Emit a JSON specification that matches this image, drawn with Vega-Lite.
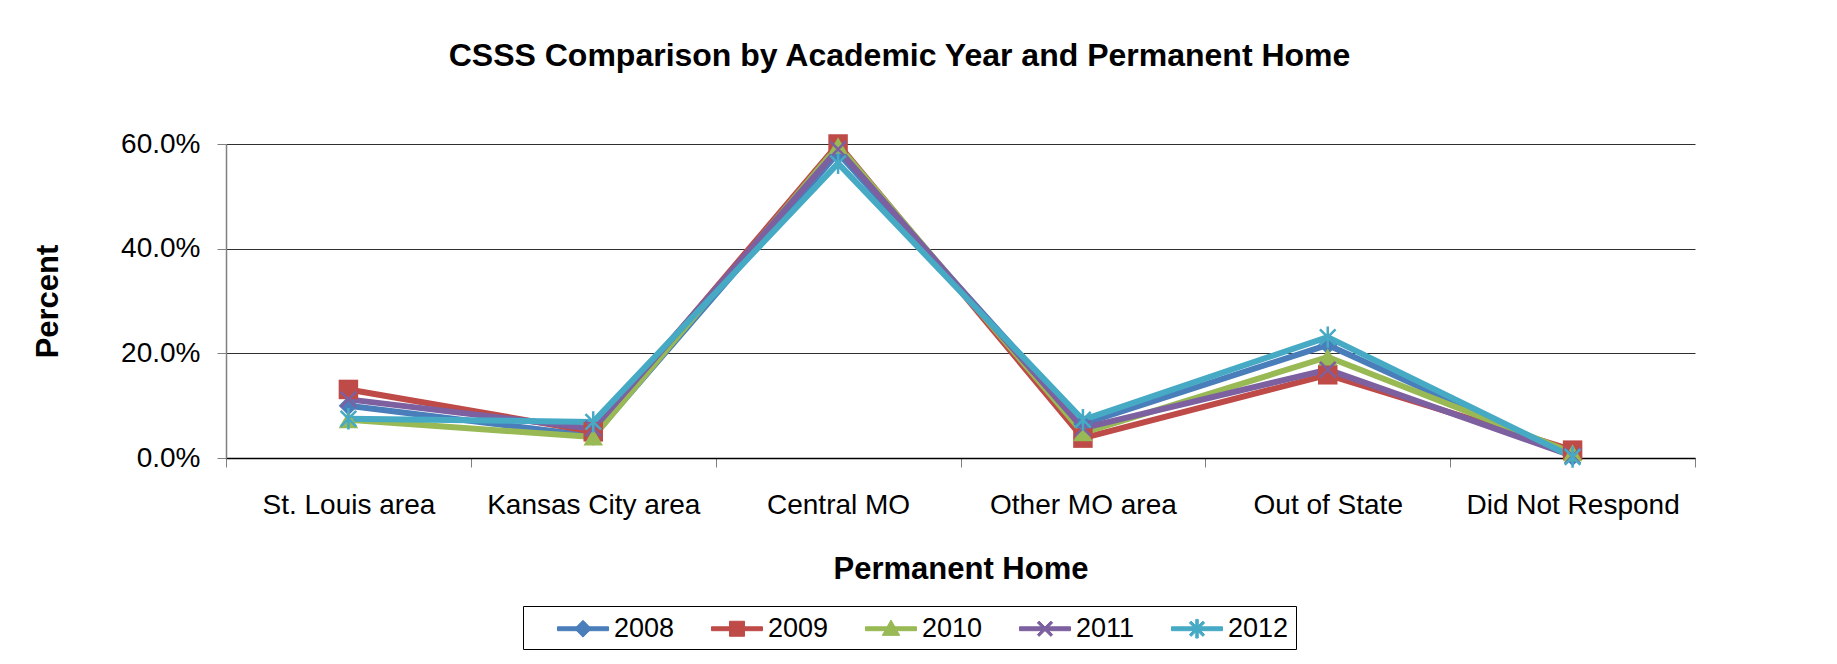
{
  "$schema": "https://vega.github.io/schema/vega-lite/v6.json",
  "width": 1469,
  "height": 314,
  "autosize": {"type": "none"},
  "padding": {"left": 226, "top": 144, "right": 142, "bottom": 206},
  "background": "white",
  "config": {
    "font": "Liberation Sans",
    "view": {"stroke": null}
  },
  "title": {
    "text": "CSSS Comparison by Academic Year and Permanent Home",
    "fontSize": 32,
    "fontWeight": "bold",
    "color": "black",
    "anchor": "middle",
    "frame": "group",
    "baseline": "alphabetic",
    "offset": 32,
    "dx": -61
  },
  "data": {
    "values": [
      {"Home": "St. Louis area", "Year": "2008", "Percent": 0.100},
      {"Home": "St. Louis area", "Year": "2009", "Percent": 0.131},
      {"Home": "St. Louis area", "Year": "2010", "Percent": 0.073},
      {"Home": "St. Louis area", "Year": "2011", "Percent": 0.112},
      {"Home": "St. Louis area", "Year": "2012", "Percent": 0.075},
      {"Home": "Kansas City area", "Year": "2008", "Percent": 0.042},
      {"Home": "Kansas City area", "Year": "2009", "Percent": 0.050},
      {"Home": "Kansas City area", "Year": "2010", "Percent": 0.040},
      {"Home": "Kansas City area", "Year": "2011", "Percent": 0.056},
      {"Home": "Kansas City area", "Year": "2012", "Percent": 0.069},
      {"Home": "Central MO", "Year": "2008", "Percent": 0.583},
      {"Home": "Central MO", "Year": "2009", "Percent": 0.600},
      {"Home": "Central MO", "Year": "2010", "Percent": 0.597},
      {"Home": "Central MO", "Year": "2011", "Percent": 0.590},
      {"Home": "Central MO", "Year": "2012", "Percent": 0.563},
      {"Home": "Other MO area", "Year": "2008", "Percent": 0.065},
      {"Home": "Other MO area", "Year": "2009", "Percent": 0.038},
      {"Home": "Other MO area", "Year": "2010", "Percent": 0.048},
      {"Home": "Other MO area", "Year": "2011", "Percent": 0.057},
      {"Home": "Other MO area", "Year": "2012", "Percent": 0.073},
      {"Home": "Out of State", "Year": "2008", "Percent": 0.216},
      {"Home": "Out of State", "Year": "2009", "Percent": 0.159},
      {"Home": "Out of State", "Year": "2010", "Percent": 0.193},
      {"Home": "Out of State", "Year": "2011", "Percent": 0.169},
      {"Home": "Out of State", "Year": "2012", "Percent": 0.231},
      {"Home": "Did Not Respond", "Year": "2008", "Percent": 0.003},
      {"Home": "Did Not Respond", "Year": "2009", "Percent": 0.015},
      {"Home": "Did Not Respond", "Year": "2010", "Percent": 0.010},
      {"Home": "Did Not Respond", "Year": "2011", "Percent": 0.004},
      {"Home": "Did Not Respond", "Year": "2012", "Percent": 0.002}
    ]
  },
  "encoding": {
    "x": {
      "field": "Home",
      "type": "nominal",
      "sort": null,
      "scale": {"type": "band", "paddingInner": 0, "paddingOuter": 0},
      "axis": {
        "title": "Permanent Home",
        "titleFontSize": 31,
        "titleFontWeight": "bold",
        "titleColor": "black",
        "titlePadding": 35,
        "labelAngle": 0,
        "labelFontSize": 28,
        "labelColor": "black",
        "labelPadding": 24,
        "labelLimit": 0,
        "tickBand": "extent",
        "tickSize": 9,
        "tickColor": "#808080",
        "domainColor": "black",
        "domainWidth": 1.5,
        "grid": false
      }
    },
    "y": {
      "field": "Percent",
      "type": "quantitative",
      "scale": {"domain": [0, 0.6], "nice": false},
      "axis": {
        "title": "Percent",
        "titleFontSize": 31,
        "titleFontWeight": "bold",
        "titleColor": "black",
        "titlePadding": 56,
        "format": ".1%",
        "values": [0, 0.2, 0.4, 0.6],
        "labelFontSize": 28,
        "labelColor": "black",
        "labelPadding": 17,
        "tickSize": 9,
        "tickColor": "#808080",
        "domainColor": "#808080",
        "domainWidth": 1.5,
        "gridColor": "#303030",
        "gridWidth": 1.2
      }
    },
    "color": {
      "field": "Year",
      "type": "nominal",
      "scale": {
        "domain": ["2008", "2009", "2010", "2011", "2012"],
        "range": ["#4A7EBB", "#BE4B48", "#98B954", "#7D60A0", "#46AAC5"]
      },
      "legend": {
        "title": null,
        "orient": "none",
        "legendX": 297,
        "legendY": 462,
        "direction": "horizontal",
        "strokeColor": "black",
        "padding": 7,
        "symbolSize": 900,
        "symbolOffset": 37.5,
        "labelOffset": 15.5,
        "columnPadding": 9,
        "labelFontSize": 27,
        "labelColor": "black",
        "symbolStrokeWidth": 1,
        "symbolOpacity": 1
      }
    }
  },
  "layer": [
    {
      "mark": {"type": "line", "strokeWidth": 6, "strokeJoin": "round", "strokeCap": "round"}
    },
    {
      "transform": [{"filter": "datum.Year == '2008'"}],
      "mark": {"type": "point", "filled": true, "size": 380, "opacity": 1, "shape": "diamond"}
    },
    {
      "transform": [{"filter": "datum.Year == '2009'"}],
      "mark": {"type": "point", "filled": true, "size": 380, "opacity": 1, "shape": "square"}
    },
    {
      "transform": [{"filter": "datum.Year == '2010'"}],
      "mark": {"type": "point", "filled": true, "size": 380, "opacity": 1, "shape": "triangle-up"}
    },
    {
      "transform": [{"filter": "datum.Year == '2011'"}],
      "mark": {"type": "point", "filled": false, "size": 380, "strokeWidth": 2.5, "opacity": 1, "shape": "M-0.8,-0.8L0.8,0.8M-0.8,0.8L0.8,-0.8"}
    },
    {
      "transform": [{"filter": "datum.Year == '2012'"}],
      "mark": {"type": "point", "filled": false, "size": 380, "strokeWidth": 2.5, "opacity": 1, "shape": "M-0.8,-0.8L0.8,0.8M-0.8,0.8L0.8,-0.8M0,-1.1V1.1"}
    },
    {
      "transform": [{"filter": "false"}],
      "mark": {"type": "point", "filled": true, "size": 900, "opacity": 1},
      "encoding": {
        "shape": {
          "field": "Year",
          "type": "nominal",
          "scale": {
            "domain": ["2008", "2009", "2010", "2011", "2012"],
            "range": [
              "M-1.7,-0.13H1.7V0.13H-1.7Z M-0.56,0L0,-0.56L0.56,0L0,0.56Z",
              "M-1.7,-0.13H1.7V0.13H-1.7Z M-0.5,-0.5H0.5V0.5H-0.5Z",
              "M-1.7,-0.13H1.7V0.13H-1.7Z M0,-0.58L0.58,0.44H-0.58Z",
              "M-1.7,-0.13H1.7V0.13H-1.7Z M-0.391,-0.509L0.509,0.391L0.391,0.509L-0.509,-0.391Z M-0.391,0.509L-0.509,0.391L0.391,-0.509L0.509,-0.391Z",
              "M-1.7,-0.13H1.7V0.13H-1.7Z M-0.391,-0.509L0.509,0.391L0.391,0.509L-0.509,-0.391Z M-0.391,0.509L-0.509,0.391L0.391,-0.509L0.509,-0.391Z M-0.083,-0.62H0.083V0.62H-0.083Z"
            ]
          },
          "legend": {
            "title": null,
            "orient": "none",
            "legendX": 297,
            "legendY": 462,
            "direction": "horizontal",
            "strokeColor": "black",
            "padding": 7,
            "symbolSize": 900,
            "symbolOffset": 37.5,
            "labelOffset": 15.5,
            "columnPadding": 9,
            "labelFontSize": 27,
            "labelColor": "black",
            "symbolStrokeWidth": 1,
            "symbolOpacity": 1
          }
        }
      }
    }
  ]
}
